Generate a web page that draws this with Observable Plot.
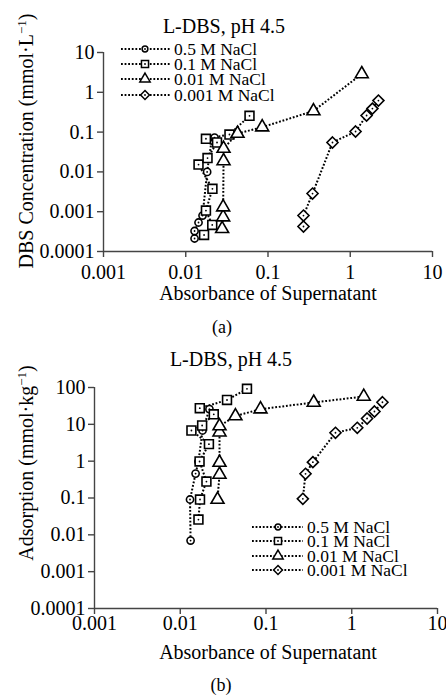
<!DOCTYPE html>
<html><head><meta charset="utf-8">
<script src="https://cdn.jsdelivr.net/npm/d3@7"></script>
<script src="https://cdn.jsdelivr.net/npm/@observablehq/plot@0.6"></script>
<style>
body{margin:0;background:#fff}
#wrap{position:relative;width:446px;height:697px;font-family:"Liberation Serif","Times New Roman",serif;overflow:hidden}
#wrap svg{position:absolute;left:0}
#wrap svg text{font-family:"Liberation Serif","Times New Roman",serif}
</style></head>
<body><div id="wrap"></div>
<script>
// ---- shared ----
const seriesNames = ["0.5 M NaCl", "0.1 M NaCl", "0.01 M NaCl", "0.001 M NaCl"];
const xTicks = [0.001, 0.01, 0.1, 1, 10];
const xTickLabels = ["0.001", "0.01", "0.1", "1", "10"];
const yTicksA = [0.0001, 0.001, 0.01, 0.1, 1, 10];
const yTickLabelsA = ["0.0001", "0.001", "0.01", "0.1", "1", "10"];
const yTicksB = [0.0001, 0.001, 0.01, 0.1, 1, 10, 100];
const yTickLabelsB = ["0.0001", "0.001", "0.01", "0.1", "1", "10", "100"];
const titleA = "L-DBS, pH 4.5";
const titleB = "L-DBS, pH 4.5";
const xLabel = "Absorbance of Supernatant";

// ---- panel (a): DBS concentration vs absorbance ----
const a05x = [0.0128, 0.0128, 0.0143, 0.016, 0.0182, 0.0206, 0.0224];
const a05y = [0.000212, 0.000327, 0.000535, 0.0008, 0.0100, 0.0615, 0.073];
const a01x = [0.0167, 0.021, 0.0176, 0.0211, 0.0143, 0.0184, 0.024, 0.0176, 0.034, 0.0596];
const a01y = [0.00026, 0.000464, 0.00107, 0.00376, 0.0153, 0.0223, 0.0548, 0.068, 0.087, 0.257];
const a001x = [0.0277, 0.0285, 0.0285, 0.0288, 0.0288, 0.0426, 0.085, 0.357, 1.38];
const a001y = [0.000372, 0.00073, 0.0013, 0.0188, 0.0387, 0.092, 0.133, 0.339, 2.89];
const a0001x = [0.270, 0.270, 0.348, 0.608, 1.16, 1.58, 1.86, 2.20];
const a0001y = [0.000425, 0.0008, 0.00286, 0.0548, 0.1035, 0.261, 0.39, 0.62];

// ---- panel (b): adsorption vs absorbance ----
const b05x = [0.0132, 0.013, 0.0151, 0.0163, 0.0182, 0.0219];
const b05y = [0.007, 0.091, 0.46, 0.98, 6.8, 25.8];
const b01x = [0.0163, 0.017, 0.0202, 0.0168, 0.0216, 0.0135, 0.018, 0.0246, 0.0169, 0.0351, 0.06];
const b01y = [0.026, 0.091, 0.28, 0.98, 2.9, 6.8, 9.3, 18.7, 27.4, 45.8, 92];
const b001x = [0.0272, 0.0287, 0.0287, 0.0287, 0.0287, 0.044, 0.0863, 0.36, 1.38];
const b001y = [0.091, 0.435, 0.92, 6.1, 9.0, 16.8, 25.8, 39.2, 57];
const b0001x = [0.269, 0.289, 0.352, 0.646, 1.16, 1.51, 1.84, 2.28];
const b0001y = [0.095, 0.454, 0.94, 5.9, 8.05, 14.4, 22.3, 39.8];

// ---- helpers ----
const diamond = {draw(ctx, size) {const h = Math.sqrt(size / 2); ctx.moveTo(0, -h); ctx.lineTo(h, 0); ctx.lineTo(0, h); ctx.lineTo(-h, 0); ctx.closePath();}};
const symbols = [d3.symbolCircle, d3.symbolSquare, d3.symbolTriangle, diamond];
const radii = [3.6, 5, 4.8, 4.4];
const centerDot = [true, true, false, true];
const dash = "1.8,1.8";

function rows(xs, ys, name) { return xs.map((x, i) => ({x, y: ys[i], series: name})); }

const dataA = [rows(a05x, a05y, seriesNames[0]), rows(a01x, a01y, seriesNames[1]), rows(a001x, a001y, seriesNames[2]), rows(a0001x, a0001y, seriesNames[3])];
const dataB = [rows(b05x, b05y, seriesNames[0]), rows(b01x, b01y, seriesNames[1]), rows(b001x, b001y, seriesNames[2]), rows(b0001x, b0001y, seriesNames[3])];

const wrap = document.getElementById("wrap");
const axisColor = "#444";
const serif = '"Liberation Serif", "Times New Roman", serif';

function panel(data, yTicks, yTickLabels, cfg) {
  const marks = [
    Plot.ruleX([xTicks[0]], {stroke: axisColor, strokeWidth: 1.4}),
    Plot.ruleY([yTicks[0]], {stroke: axisColor, strokeWidth: 1.4}),
    Plot.axisX({ticks: xTicks, tickFormat: d => xTickLabels[xTicks.indexOf(d)], tickSize: 6, tickPadding: cfg.xPad, fontSize: 20, fontFamily: serif, stroke: axisColor, strokeWidth: 1.4, fill: "black", label: null}),
    Plot.axisY({ticks: yTicks, tickFormat: d => yTickLabels[yTicks.indexOf(d)], tickSize: 6, tickPadding: 3, fontSize: 20, fontFamily: serif, stroke: axisColor, strokeWidth: 1.4, fill: "black", label: null})
  ];
  data.forEach((d) => {
    marks.push(Plot.line(d, {x: "x", y: "y", stroke: "black", strokeWidth: 2, strokeDasharray: dash, strokeLinecap: "butt"}));
  });
  data.forEach((d, i) => {
    marks.push(Plot.dot(d, {x: "x", y: "y", symbol: symbols[i], r: radii[i], fill: "white", stroke: "black", strokeWidth: 1.6}));
    if (centerDot[i]) marks.push(Plot.dot(d, {x: "x", y: "y", r: 0.9, fill: "black", stroke: "none"}));
  });
  const svg = Plot.plot({
    width: 446, height: cfg.height,
    marginLeft: cfg.ml, marginRight: cfg.mr, marginTop: cfg.mt, marginBottom: cfg.mb,
    x: {type: "log", domain: [xTicks[0], xTicks[xTicks.length - 1]]},
    y: {type: "log", domain: [yTicks[0], yTicks[yTicks.length - 1]]},
    style: {fontFamily: serif, background: "transparent", color: "black", overflow: "visible"},
    marks
  });
  svg.style.top = cfg.top + "px";
  wrap.appendChild(svg);
}

panel(dataA, yTicksA, yTickLabelsA, {top: 0, height: 310, ml: 103, mr: 14, mt: 52, mb: 59, xPad: 7});
panel(dataB, yTicksB, yTickLabelsB, {top: 330, height: 340, ml: 94, mr: 9, mt: 57, mb: 62, xPad: 1});

// ---- overlay: titles, axis titles, legends, captions ----
const ov = d3.select(wrap).append("svg").attr("width", 446).attr("height", 697).style("top", "0px");

function title(x, y, t, size) { return ov.append("text").attr("x", x).attr("y", y).attr("text-anchor", "middle").attr("font-size", size).text(t); }
title(224, 33, titleA, 20);
title(231, 366, titleB, 20);
title(268, 300, xLabel, 20);
title(268, 659, xLabel, 20);
title(222, 333, "(a)", 18);
title(221, 691, "(b)", 18);

function ylab(x, y, main, unit) {
  const t = ov.append("text").attr("transform", `translate(${x},${y}) rotate(-90)`).attr("text-anchor", "middle").attr("font-size", 20);
  t.append("tspan").text(main + " (" + unit);
  t.append("tspan").attr("dy", -7).attr("font-size", 13).text("−1");
  t.append("tspan").attr("dy", 7).text(")");
}
ylab(33, 141, "DBS Concentration", "mmol·L");
ylab(33, 463, "Adsorption", "mmol·kg");

function legend(x0, x1, xm, xt, ys) {
  seriesNames.forEach((name, i) => {
    const y = ys[i];
    ov.append("line").attr("x1", x0).attr("x2", x1).attr("y1", y).attr("y2", y).attr("stroke", "black").attr("stroke-width", 2).attr("stroke-dasharray", dash);
    ov.append("path").attr("transform", `translate(${xm},${y})`).attr("d", d3.symbol().type(symbols[i]).size(Math.PI * (radii[i] * 0.8) ** 2)()).attr("fill", "white").attr("stroke", "black").attr("stroke-width", 1.5);
    if (centerDot[i]) ov.append("circle").attr("cx", xm).attr("cy", y).attr("r", 0.9).attr("fill", "black");
    ov.append("text").attr("x", xt).attr("y", y + 5.5).attr("font-size", 17.5).text(name);
  });
}
legend(121, 170, 145, 174, [49, 64, 79, 95]);
legend(252, 303, 278, 307, [527, 541, 556, 570]);
</script>
</body></html>
